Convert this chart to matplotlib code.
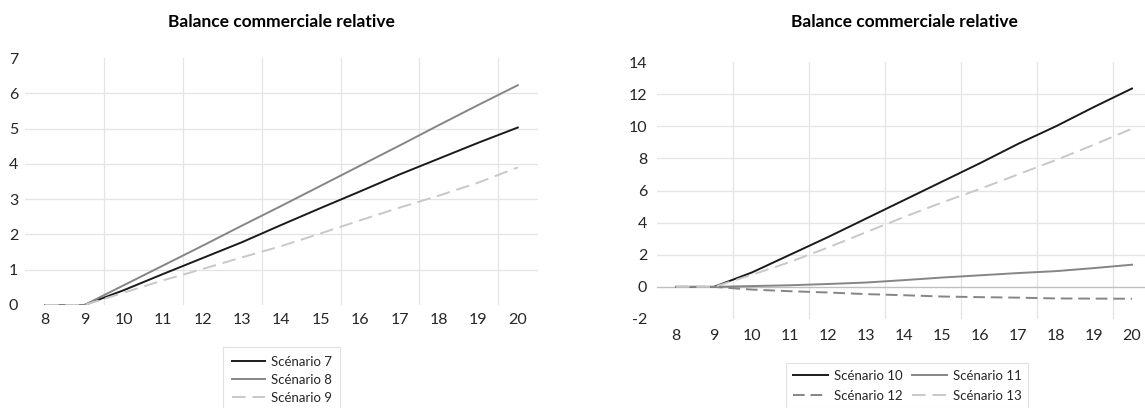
import matplotlib
matplotlib.use("Agg")
import matplotlib.pyplot as plt
import numpy as np

plt.rcParams['font.family'] = ['Lato', 'DejaVu Sans']

years = [8, 9, 10, 11, 12, 13, 14, 15, 16, 17, 18, 19, 20]
title = "Balance commerciale relative"

# Left chart
s7 = [0, 0, 0.42, 0.88, 1.33, 1.78, 2.27, 2.75, 3.22, 3.70, 4.15, 4.60, 5.03]
s8 = [0, 0, 0.56, 1.12, 1.68, 2.25, 2.81, 3.38, 3.95, 4.52, 5.10, 5.67, 6.23]
s9 = [0, 0, 0.35, 0.70, 1.02, 1.35, 1.67, 2.03, 2.40, 2.76, 3.10, 3.47, 3.90]
left_yticks = [0, 1, 2, 3, 4, 5, 6, 7]

# Right chart
s10 = [0, 0, 0.90, 2.00, 3.10, 4.25, 5.40, 6.55, 7.70, 8.90, 10.00, 11.20, 12.35]
s11 = [0, 0, 0.05, 0.10, 0.18, 0.27, 0.42, 0.58, 0.72, 0.86, 0.98, 1.17, 1.38]
s12 = [0, 0, -0.17, -0.27, -0.35, -0.45, -0.52, -0.60, -0.64, -0.67, -0.72, -0.73, -0.74]
s13 = [0, 0, 0.75, 1.55, 2.45, 3.40, 4.35, 5.25, 6.10, 7.00, 7.90, 8.85, 9.85]
right_yticks = [-2, 0, 2, 4, 6, 8, 10, 12, 14]

W, H = 1145, 408
fig = plt.figure(figsize=(W / 100, H / 100), dpi=100)

def px_axes(l, r, t, b):
    return fig.add_axes([l / W, 1 - b / H, (r - l) / W, (b - t) / H])

ax1 = px_axes(25.3, 537.5, 58, 305)
ax2 = px_axes(657, 1151, 62, 319)

black = '#1a1a1a'
mid = '#858585'
light = '#c8c8c8'
grid_c = '#e4e4e4'
tick_c = '#262626'
lw = 1.4

l7, = ax1.plot(years, s7, color=black, lw=lw, label='Scénario 7')
l8, = ax1.plot(years, s8, color=mid, lw=lw, label='Scénario 8')
l9, = ax1.plot(years, s9, color=light, lw=lw, dashes=(7, 3.5), label='Scénario 9')

l10, = ax2.plot(years, s10, color=black, lw=lw, label='Scénario 10')
l11, = ax2.plot(years, s11, color=mid, lw=lw, label='Scénario 11')
l12, = ax2.plot(years, s12, color=mid, lw=lw, dashes=(6, 3), label='Scénario 12')
l13, = ax2.plot(years, s13, color=light, lw=lw, dashes=(7, 3.5), label='Scénario 13')

for ax, yt, pady, padx in ((ax1, left_yticks, 5, 5.5), (ax2, right_yticks, 7, 7.5)):
    ax.set_xlim(years[0] - 0.5, years[-1] + 0.5)
    ax.set_ylim(yt[0], yt[-1])
    ax.set_xticks(years)
    ax.set_xticklabels([str(y) for y in years])
    ax.set_yticks(yt)
    ax.set_yticklabels([str(v) for v in yt])
    ax.tick_params(length=0, labelsize=11.5, colors=tick_c)
    ax.tick_params(axis='y', pad=pady)
    ax.tick_params(axis='x', pad=padx)
    for sp in ax.spines.values():
        sp.set_visible(False)
    for v in yt[1:-1]:
        if v == 0:
            continue
        ax.axhline(v, color=grid_c, lw=0.9, zorder=0)
    for xg in years[1:-1:2]:
        ax.axvline(xg + 0.5, color=grid_c, lw=0.9, zorder=0)

ax2.axhline(0, color='#bfbfbf', lw=1.0, zorder=0.5)

fig.text(281 / W, 1 - 22 / H, title, ha='center', va='center',
         fontsize=12.5, fontweight='bold', color='#000000')
fig.text(904 / W, 1 - 22 / H, title, ha='center', va='center',
         fontsize=12.5, fontweight='bold', color='#000000')

leg1 = fig.legend(handles=[l7, l8, l9], loc='upper left',
                  bbox_to_anchor=(223 / W, 1 - 347 / H), fontsize=9.5,
                  frameon=True, fancybox=False, edgecolor='#d9d9d9',
                  handlelength=2.5, handletextpad=0.45, labelspacing=0.45,
                  borderpad=0.66, borderaxespad=0)
leg1.get_frame().set_linewidth(0.8)
for t in leg1.get_texts():
    t.set_color(tick_c)

leg2 = fig.legend(handles=[l10, l12, l11, l13], loc='upper left', ncol=2,
                  bbox_to_anchor=(786 / W, 1 - 363 / H), fontsize=9.5,
                  frameon=True, fancybox=False, edgecolor='#d9d9d9',
                  handlelength=2.65, handletextpad=0.45, labelspacing=0.6,
                  columnspacing=0.75, borderpad=0.5, borderaxespad=0)
leg2.get_frame().set_linewidth(0.8)
for t in leg2.get_texts():
    t.set_color(tick_c)

fig.savefig('out.png', dpi=100)
